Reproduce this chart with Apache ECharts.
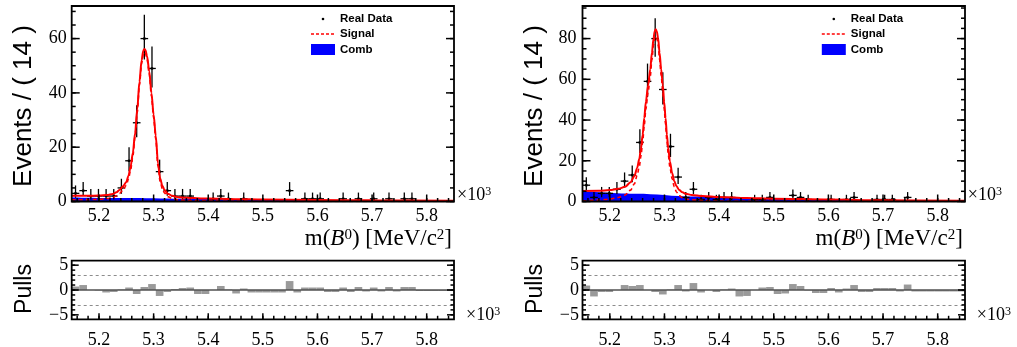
<!DOCTYPE html>
<html>
<head>
<meta charset="utf-8">
<script src="https://cdn.jsdelivr.net/npm/echarts@6/dist/echarts.min.js"></script>
<style>
html,body{margin:0;padding:0;background:#ffffff;}
#chart{width:1017px;height:347px;}
</style>
</head>
<body>
<div id="chart"></div>
<script>
// ---------------- data ----------------
const BIN_CENTERS = [5157,5171,5185,5199,5213,5227,5241,5255,5269,5283,5297,5311,5325,5339,5353,5367,5381,5395,5409,5423,
  5437,5451,5465,5479,5493,5507,5521,5535,5549,5563,5577,5591,5605,5619,5633,5647,5661,5675,5689,5703,
  5717,5731,5745,5759,5773,5787,5801,5815,5829,5843];
const X_TICK_LABELS = [5200,5300,5400,5500,5600,5700,5800];
const Y_TICKS_L = [0,20,40,60];
const Y_TICKS_R = [0,20,40,60,80];
const PULL_TICKS = [-5,0,5];

const COUNTS_L = [3,4,2,2,2,2,5,15,29,60,49,11,4,2,2,2,0,0,1,2,1,0,1,0,0,0,0,0,4,0,1,1,1,0,0,1,0,1,0,1,0,1,0,1,1,0,0,0,0,0];
const COUNTS_R = [8,2,4,4,6,10,13,29,59,80,55,27,12,2,6,1,2,1,2,2,0,0,1,1,2,0,0,3,2,1,0,0,1,0,1,2,0,0,1,1,1,0,2,0,0,0,0,0,0,0];

const PULLS_L = [0.7,1.0,0.0,-0.1,-0.5,-0.4,0.1,0.5,-0.8,0.6,1.2,-1.2,-0.4,0.2,0.4,0.5,-0.8,-0.8,0.0,0.8,0.1,-0.7,0.3,-0.5,-0.5,
  -0.5,-0.5,-0.5,1.8,-0.5,0.5,0.5,0.5,-0.4,-0.4,0.5,-0.4,0.6,-0.3,0.5,-0.3,0.6,-0.3,0.6,0.6,-0.2,-0.2,-0.2,-0.2,-0.2];
const PULLS_R = [0.9,-1.3,-0.4,-0.4,0.0,1.0,0.8,1.0,0.0,-0.4,-0.9,0.1,1.0,-0.3,1.4,-0.5,0.0,-0.4,0.1,0.3,-1.3,-1.2,0.0,0.5,0.6,
  -0.8,-0.7,1.2,0.8,-0.1,-0.6,-0.6,0.4,-0.5,0.3,1.0,-0.4,-0.4,0.4,0.4,0.4,-0.3,1.1,-0.3,-0.3,-0.3,-0.3,-0.3,-0.3,-0.3];

const CURVE_X_L = [5150,5180,5200,5215,5225,5232,5238,5244,5250,5254,5258,5262,5266,5270,5274,5278,5281,5283,5285,5288,
  5292,5296,5300,5304,5308,5312,5316,5320,5326,5334,5345,5360,5400,5450,5500,5600,5700,5850];
const TOTAL_L = [2.1,2.1,2.2,2.4,2.8,3.4,4.3,5.6,7.2,9.5,13,18,25,34,44,52,55.5,56.2,55.8,53.5,
  48,40,32,24,14,8.5,5.8,4.2,2.9,2.1,1.6,1.35,1.1,0.85,0.72,0.56,0.45,0.32];
const SIGNAL_L = [0.6,0.7,0.8,1.1,1.5,2.1,3.0,4.3,6.0,8.3,11.8,16.8,23.8,32.8,42.8,50.8,54.3,55.0,54.6,52.4,
  46.9,38.9,30.9,22.9,12.9,7.4,4.7,3.1,1.8,1.1,0.6,0.4,0.2,0.05,0.01,0,0,0];

const CURVE_X_R = [5150,5180,5200,5215,5228,5238,5245,5250,5254,5257,5260,5263,5266,5270,5274,5277,5280,5282,5284,5286,
  5288.5,5291,5294,5297,5299.5,5302,5304.5,5307,5310,5314,5318,5322,5327,5333,5339,5350,5370,5400,5450,5500,5600,5700,5850];
const TOTAL_R = [5.2,5.3,5.6,6.2,7.2,9.5,12.5,16.5,21,26,32.6,41,49,57,65,73,80,83.5,84.6,83.5,
  80,73,65,57,48.8,41,32.6,26,19.7,14,10,7.5,5.6,4.5,3.8,3.2,2.7,2.2,1.7,1.4,0.95,0.63,0.33];
const SIGNAL_R = [0.2,0.7,1.2,2.0,3.2,5.6,8.7,12.8,17.3,22.3,29.0,37.4,45.5,53.5,61.6,69.6,76.7,80.2,81.3,80.2,
  76.8,69.8,61.8,53.9,45.7,38.0,29.6,23.0,16.8,11.1,7.2,4.7,2.9,1.9,1.25,0.8,0.45,0.17,0.05,0.02,0.02,0,0];

const COMB_X = [5150,5250,5350,5450,5550,5650,5750,5850];
const COMB_L = [1.5,1.25,1.0,0.8,0.62,0.5,0.4,0.32];
const COMB_R = [5.0,3.75,2.4,1.65,1.1,0.75,0.5,0.32];

// ---------------- styling / layout ----------------
const SERIF = '"Liberation Serif","Times New Roman",serif';
const SANS = '"Liberation Sans",Arial,Helvetica,sans-serif';
const HALF_BIN = 7;
const X_MIN = 5150, X_MAX = 5850;
const PULL_MIN = -5.9, PULL_MAX = 5.9;

const GRIDS = [
  {left:71.7, top:6, width:382.3, height:195.5},
  {left:71.7, top:260.7, width:382.3, height:58.6},
  {left:582.5, top:6, width:382.5, height:195.5},
  {left:582.5, top:260.7, width:382.5, height:58.6}
];
const Y_RANGES = [[0,72],[PULL_MIN,PULL_MAX],[0,96],[PULL_MIN,PULL_MAX]];

function range(a, b, s){ const r=[]; for(let v=a; v<=b+1e-9; v+=s) r.push(+v.toFixed(6)); return r; }
const X_MINOR = range(5160, 5840, 20);
const Y_MINOR = [range(0,70,5), range(-5,5,1), range(0,95,5), range(-5,5,1)];
const Y_MAJOR = [Y_TICKS_L, PULL_TICKS, Y_TICKS_R, PULL_TICKS];

const xAxisList = GRIDS.map((g, i) => ({
  type:'value', gridIndex:i, min:X_MIN, max:X_MAX, position:'bottom',
  splitLine:{show:false}, axisLine:{show:false, onZero:false}, axisTick:{show:false},
  axisLabel:{show:true, customValues:X_TICK_LABELS, margin:(i % 2 ? 12 : 6), color:'#000', fontFamily:SERIF, fontSize:18,
    formatter:v => (v/1000).toFixed(1)}
}));
const yAxisList = GRIDS.map((g, i) => ({
  type:'value', gridIndex:i, min:Y_RANGES[i][0], max:Y_RANGES[i][1], position:'left',
  splitLine:{show:false}, axisLine:{show:false, onZero:false}, axisTick:{show:false},
  axisLabel:{show:true, customValues:Y_MAJOR[i], margin:(i % 2 ? 3.5 : (i === 0 ? 5 : 6)), color:'#000', fontFamily:SERIF, fontSize:18,
    formatter:v => (v < 0 ? '\u2212' + (-v) : String(v))}
}));

// Poisson 68% interval (approximation) for error bars
function poissonErr(n){
  const lo = n * Math.pow(1 - 1/(9*n) - 1/(3*Math.sqrt(n)), 3);
  const m = n + 1;
  const hi = m * Math.pow(1 - 1/(9*m) + 1/(3*Math.sqrt(m)), 3);
  return [n - lo, hi - n];
}
function dataPoints(counts){
  const out = [];
  counts.forEach((n, i) => { if (n > 0) { const e = poissonErr(n); out.push([BIN_CENTERS[i], n, e[0], e[1]]); } });
  return out;
}
function pairs(xs, ys){ return xs.map((x, i) => [x, ys[i]]); }

function renderPoint(params, api){
  const x = api.value(0), y = api.value(1), lo = api.value(2), hi = api.value(3);
  const pl = api.coord([x - HALF_BIN, y]), pr = api.coord([x + HALF_BIN, y]);
  const pt = api.coord([x, y + hi]), pb = api.coord([x, y - lo]);
  const c = api.coord([x, y]);
  const st = {stroke:'#000', lineWidth:1.3};
  return {type:'group', children:[
    {type:'line', shape:{x1:pl[0], y1:pl[1], x2:pr[0], y2:pr[1]}, style:st},
    {type:'line', shape:{x1:pt[0], y1:pt[1], x2:pb[0], y2:pb[1]}, style:st},
    {type:'rect', shape:{x:c[0]-1.2, y:c[1]-1.2, width:2.4, height:2.4}, style:{fill:'#000'}}
  ]};
}
function renderPull(params, api){
  const x = api.value(0), v = api.value(1);
  const a = api.coord([x - HALF_BIN, 0]), b = api.coord([x + HALF_BIN, v]);
  return {type:'rect', shape:{x:a[0], y:Math.min(a[1], b[1]), width:b[0]-a[0], height:Math.abs(b[1]-a[1])},
    style:{fill:'#9a9a9a'}};
}

// ticks as one custom item per grid: filled rects placed through api.coord
function tickSeries(g){
  const ymin = Y_RANGES[g][0];
  const isPull = g % 2 === 1;
  return {type:'custom', name:'frame-ticks-' + g, xAxisIndex:g, yAxisIndex:g, clip:false, z:20, silent:true,
    data:[[X_MIN + 1, ymin]], encode:{x:0, y:1},
    renderItem:(params, api) => {
      const kids = [];
      const W = 1.5;
      const vt = (v, L) => { const p = api.coord([v, ymin]); kids.push({type:'rect', shape:{x:p[0] - W/2, y:p[1] - L, width:W, height:L}, style:{fill:'#000'}}); };
      const ht = (v, L) => {
        const a = api.coord([X_MIN, v]), b = api.coord([X_MAX, v]);
        kids.push({type:'rect', shape:{x:a[0], y:a[1] - W/2, width:L, height:W}, style:{fill:'#000'}});
        kids.push({type:'rect', shape:{x:b[0] - L, y:b[1] - W/2, width:L, height:W}, style:{fill:'#000'}});
      };
      X_TICK_LABELS.forEach(v => vt(v, isPull ? 6 : 7));
      X_MINOR.forEach(v => vt(v, 3.5));
      Y_MAJOR[g].forEach(v => ht(v, isPull ? 7 : 8));
      Y_MINOR[g].forEach(v => ht(v, isPull ? 3.5 : 4));
      return {type:'group', children:kids};
    }};
}

function panelSeries(p, counts, pulls, cx, total, signal, comb){
  const gm = 2*p, gp = 2*p + 1;
  return [
    {type:'line', name:'Comb', xAxisIndex:gm, yAxisIndex:gm, data:pairs(COMB_X, comb), symbol:'none',
      smooth:0.3, smoothMonotone:'x', lineStyle:{width:0}, areaStyle:{color:'#0000ff', opacity:1}, z:1, silent:true},
    {type:'custom', name:'Real Data', xAxisIndex:gm, yAxisIndex:gm, data:dataPoints(counts),
      renderItem:renderPoint, encode:{x:0, y:1}, z:3, silent:true},
    {type:'line', name:'Total', xAxisIndex:gm, yAxisIndex:gm, data:pairs(cx, total), symbol:'none',
      smooth:0.3, smoothMonotone:'x', lineStyle:{color:'#ff0000', width:2}, z:4, silent:true},
    {type:'line', name:'Signal', xAxisIndex:gm, yAxisIndex:gm, data:pairs(cx, signal), symbol:'none',
      smooth:0.3, smoothMonotone:'x', lineStyle:{color:'#ff0000', width:1.6, type:[4,3]}, z:5, silent:true},
    {type:'custom', name:'Pulls', xAxisIndex:gp, yAxisIndex:gp, data:pairs(BIN_CENTERS, pulls),
      renderItem:renderPull, encode:{x:0, y:1}, z:2, silent:true,
      markLine:{silent:true, symbol:['none','none'], label:{show:false}, animation:false,
        data:[
          {yAxis:3, lineStyle:{color:'#8c8c8c', width:1, type:[3,3]}},
          {yAxis:-3, lineStyle:{color:'#8c8c8c', width:1, type:[3,3]}},
          {yAxis:0, lineStyle:{color:'#505050', width:1.5, type:'solid'}}
        ]}},
    tickSeries(gm),
    tickSeries(gp)
  ];
}

// ---------------- text / frames / legend ----------------
function txt(x, y, text, font, align, vAlign, extra){
  return Object.assign({type:'text', x:x, y:y, z:100, silent:true,
    style:{text:text, font:font, fill:'#000', align:align, verticalAlign:vAlign, textAlign:align, textVerticalAlign:vAlign}}, extra || {});
}
function rich(x, y, text, richStyles, align, vAlign){
  return {type:'text', x:x, y:y, z:100, silent:true,
    style:{text:text, rich:richStyles, fill:'#000', align:align, verticalAlign:vAlign, textAlign:align, textVerticalAlign:vAlign}};
}
const AXIS_TITLE_RICH = {
  r:{fontFamily:SERIF, fontSize:23, fill:'#000'},
  i:{fontFamily:SERIF, fontSize:23, fontStyle:'italic', fill:'#000'},
  s:{fontFamily:SERIF, fontSize:15, fill:'#000', verticalAlign:'top'}
};
const EXP_RICH = {
  r:{fontFamily:SERIF, fontSize:18, fill:'#000'},
  s:{fontFamily:SERIF, fontSize:12, fill:'#000', verticalAlign:'top'}
};

function panelGraphics(dx){
  const els = [];
  [GRIDS[0], GRIDS[1]].forEach(g => {
    els.push({type:'rect', z:90, silent:true, shape:{x:g.left + dx, y:g.top, width:g.width + (dx ? 0.2 : 0), height:g.height},
      style:{fill:'none', stroke:'#000', lineWidth:1.8}});
  });
  els.push(txt(24 + dx, 106, 'Events / ( 14 )', '26px ' + SANS, 'center', 'middle', {rotation:Math.PI/2}));
  els.push(txt(25 + dx, 289, 'Pulls', '23px ' + SANS, 'center', 'middle', {rotation:Math.PI/2}));
  els.push(rich(452 + dx, 239, '{r|m(}{i|B}{s|0}{r|) [MeV/c}{s|2}{r|]}', AXIS_TITLE_RICH, 'right', 'middle'));
  els.push(rich(457 + dx, 195, '{r|\u00d710}{s|3}', EXP_RICH, 'left', 'middle'));
  els.push(rich(466 + dx, 315, '{r|\u00d710}{s|3}', EXP_RICH, 'left', 'middle'));
  const lf = 'bold 11.5px ' + SANS;
  els.push({type:'circle', z:100, silent:true, shape:{cx:323 + dx, cy:19, r:1.3}, style:{fill:'#000'}});
  els.push(txt(340 + dx, 19, 'Real Data', lf, 'left', 'middle'));
  els.push({type:'line', z:100, silent:true, shape:{x1:311 + dx, y1:34, x2:336 + dx, y2:34},
    style:{stroke:'#ff0000', lineWidth:1.5, lineDash:[3,2]}});
  els.push(txt(340 + dx, 34, 'Signal', lf, 'left', 'middle'));
  els.push({type:'rect', z:100, silent:true, shape:{x:311 + dx, y:44, width:24, height:11}, style:{fill:'#0000ff'}});
  els.push(txt(340 + dx, 49.5, 'Comb', lf, 'left', 'middle'));
  return els;
}

const chart = echarts.init(document.getElementById('chart'), null, {renderer:'canvas', width:1017, height:347});
chart.setOption({
  animation:false,
  backgroundColor:'#ffffff',
  grid:GRIDS.map(g => Object.assign({show:false, containLabel:false, outerBoundsMode:'none'}, g)),
  xAxis:xAxisList,
  yAxis:yAxisList,
  series:[].concat(
    panelSeries(0, COUNTS_L, PULLS_L, CURVE_X_L, TOTAL_L, SIGNAL_L, COMB_L),
    panelSeries(1, COUNTS_R, PULLS_R, CURVE_X_R, TOTAL_R, SIGNAL_R, COMB_R)
  ),
  graphic:{elements:[].concat(panelGraphics(0), panelGraphics(510.8))}
});
</script>
</body>
</html>
